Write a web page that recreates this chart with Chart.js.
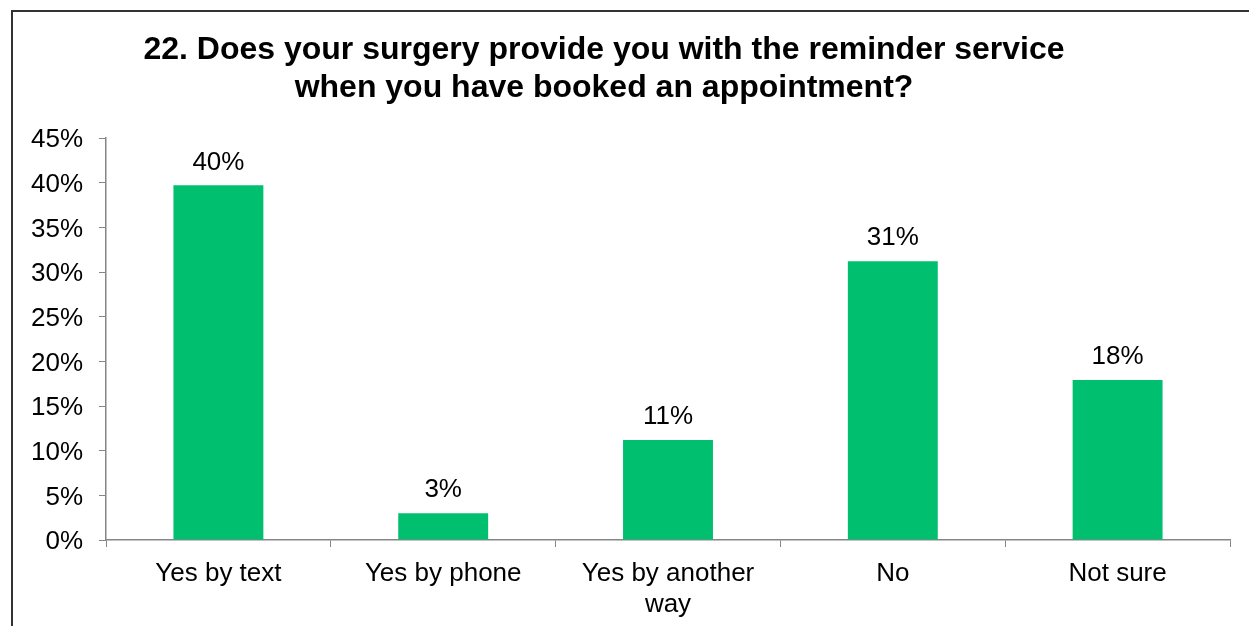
<!DOCTYPE html>
<html>
<head>
<meta charset="utf-8">
<title>Reminder service</title>
<script src="https://cdn.jsdelivr.net/npm/chart.js@4/dist/chart.umd.min.js"></script>
<style>
    html, body { margin: 0; padding: 0; background: #fff; overflow: hidden; }
    #frame {
        position: absolute;
        left: 11px;
        top: 10px;
        width: 1400px;
        height: 800px;
        border: 2px solid #333;
    }
    #wrap { position: absolute; left: 0; top: 0; width: 1249px; height: 626px; }
</style>
</head>
<body>
<div id="frame"></div>
<div id="wrap"><canvas id="reminderChart"></canvas></div>
<script>
const categories = ['Yes by text', 'Yes by phone', ['Yes by another', 'way'], 'No', 'Not sure'];
const percentages = [39.7, 3.0, 11.2, 31.2, 17.9];
const yTicks = [0, 5, 10, 15, 20, 25, 30, 35, 40, 45];

const titleLines = [
    '22. Does your surgery provide you with the reminder service',
    'when you have booked an appointment?'
];

const FONT = "'Liberation Sans', Arial, sans-serif";
const AXIS_GREY = '#868686';

// title is centred on the frame, not on the plot area
const frameTitle = {
    id: 'frameTitle',
    afterDraw(chart) {
        const ctx = chart.ctx;
        ctx.save();
        ctx.font = 'bold 32px ' + FONT;
        ctx.fillStyle = '#000';
        ctx.textAlign = 'center';
        ctx.textBaseline = 'middle';
        titleLines.forEach((line, i) => {
            ctx.fillText(line, 604, 50 + i * 38);
        });
        ctx.restore();
    }
};

// value labels above each bar
const barLabels = {
    id: 'barLabels',
    afterDatasetsDraw(chart) {
        const ctx = chart.ctx;
        const meta = chart.getDatasetMeta(0);
        ctx.save();
        ctx.font = '26px ' + FONT;
        ctx.fillStyle = '#000';
        ctx.textAlign = 'center';
        ctx.textBaseline = 'middle';
        meta.data.forEach((bar, i) => {
            ctx.fillText(Math.round(percentages[i]) + '%', bar.x, bar.y - 23);
        });
        ctx.restore();
    }
};

const ctx = document.getElementById('reminderChart').getContext('2d');
new Chart(ctx, {
    type: 'bar',
    data: {
        labels: categories,
        datasets: [{
            data: percentages,
            backgroundColor: '#00BF6F',
            barPercentage: 0.4,
            categoryPercentage: 1
        }]
    },
    options: {
        responsive: true,
        maintainAspectRatio: false,
        animation: false,
        layout: {
            padding: { left: 0, right: 19, top: 138, bottom: 0 }
        },
        plugins: {
            legend: { display: false },
            tooltip: { enabled: false },
            title: { display: false }
        },
        scales: {
            x: {
                grid: {
                    display: true,
                    offset: true,
                    drawOnChartArea: false,
                    color: AXIS_GREY,
                    tickLength: 7
                },
                border: { color: AXIS_GREY, width: 1.5 },
                ticks: {
                    color: '#000',
                    maxRotation: 0,
                    autoSkip: false,
                    padding: 11,
                    font: { family: FONT, size: 26, lineHeight: 31 / 26 }
                },
                afterFit(scale) { scale.height = 86; }
            },
            y: {
                min: 0,
                max: 45,
                afterBuildTicks(scale) {
                    scale.ticks = yTicks.map(v => ({ value: v }));
                },
                grid: {
                    display: true,
                    drawOnChartArea: false,
                    color: AXIS_GREY,
                    tickLength: 7
                },
                border: { color: AXIS_GREY, width: 1.5 },
                ticks: {
                    color: '#000',
                    padding: 16,
                    labelOffset: 2,
                    font: { family: FONT, size: 26 },
                    callback: v => v + '%'
                },
                afterFit(scale) { scale.width = 106; }
            }
        }
    },
    plugins: [barLabels, frameTitle]
});
</script>
</body>
</html>
